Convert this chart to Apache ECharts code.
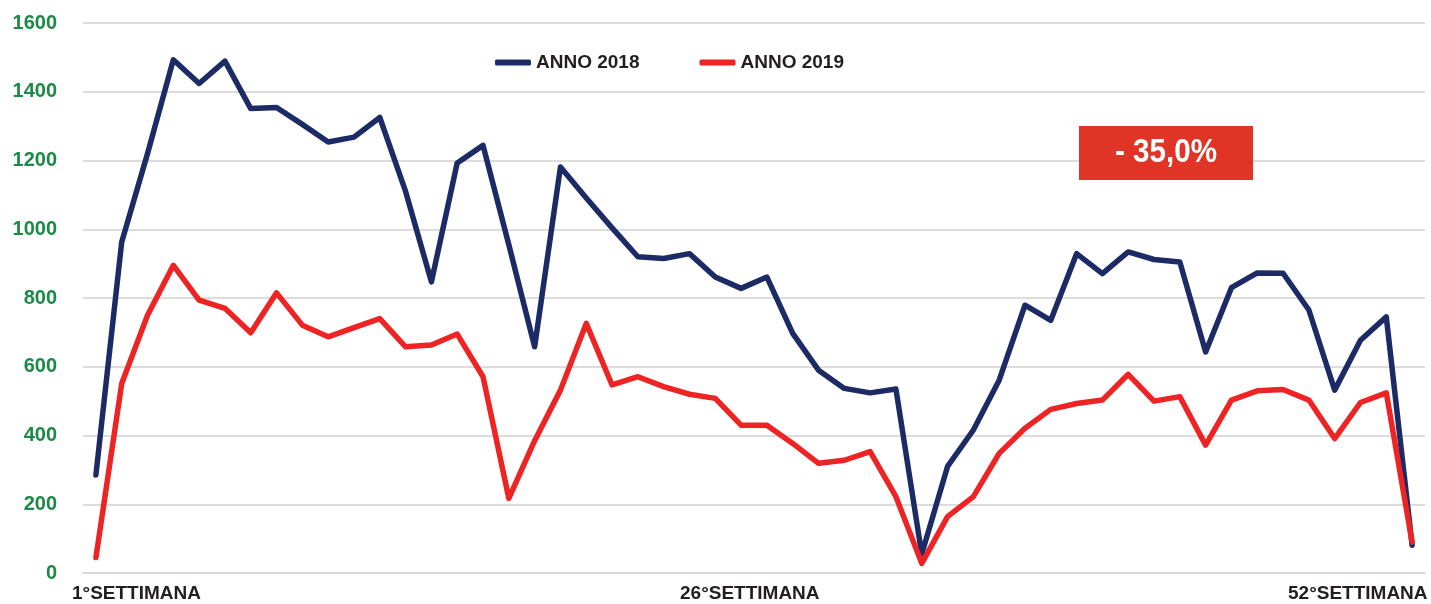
<!DOCTYPE html>
<html>
<head>
<meta charset="utf-8">
<script src="https://cdn.jsdelivr.net/npm/echarts@6/dist/echarts.min.js"></script>
<style>
html,body{margin:0;padding:0;background:#fff;}
#chart{width:1431px;height:604px;}
</style>
</head>
<body>
<div id="chart"></div>
<script>
const weeks = Array.from({length: 52}, (_, i) => (i + 1) + '°');
const xTickLabels = ['1°SETTIMANA', '26°SETTIMANA', '52°SETTIMANA'];
const seriesNames = ['ANNO 2018', 'ANNO 2019'];
const anno2018 = [285, 963, 1220, 1493, 1424, 1489, 1351, 1354, 1305, 1254,
  1268, 1325, 1110, 847, 1193, 1244, 955, 658, 1181, 1091,
  1004, 920, 915, 929, 861, 828, 861, 697, 590, 537,
  524, 535, 55, 310, 416, 561, 779, 735, 929, 871,
  934, 912, 905, 643, 830, 873, 872, 765, 532, 677,
  745, 81];
const anno2019 = [45, 551, 750, 895, 794, 770, 699, 815, 721, 687,
  714, 740, 658, 663, 695, 571, 217, 385, 532, 726,
  547, 571, 542, 520, 508, 430, 430, 377, 319, 328,
  353, 222, 28, 164, 222, 348, 421, 476, 493, 503,
  578, 500, 513, 372, 503, 530, 534, 503, 391, 496,
  524, 90];
const yTicks = {min: 0, max: 1600, interval: 200};
const badgeText = '- 35,0%';

const chart = echarts.init(document.getElementById('chart'));
const FONT = "'Liberation Sans', Arial, sans-serif";
chart.setOption({
  animation: false,
  backgroundColor: '#ffffff',
  grid: {left: 83, right: 6, top: 23, bottom: 31, containLabel: false},
  legend: {
    data: seriesNames,
    left: 490, top: 48,
    itemWidth: 36, itemHeight: 6, itemGap: 60,
    icon: 'roundRect',
    textStyle: {fontFamily: FONT, fontWeight: 'bold', fontSize: 19, color: '#231f20'}
  },
  xAxis: {
    type: 'category',
    data: weeks,
    boundaryGap: true,
    axisLine: {show: true, lineStyle: {color: '#d9d9d9', width: 2}},
    axisTick: {show: false},
    axisLabel: {show: false},
    splitLine: {show: false}
  },
  yAxis: {
    type: 'value',
    min: yTicks.min, max: yTicks.max, interval: yTicks.interval,
    axisLine: {show: false},
    axisTick: {show: false},
    axisLabel: {fontFamily: FONT, fontWeight: 'bold', fontSize: 20, color: '#1b8a47', margin: 26,
      formatter: v => String(v)},
    splitLine: {lineStyle: {color: '#dcdcdc', width: 2}}
  },
  series: [
    {name: seriesNames[0], type: 'line', data: anno2018, symbol: 'none',
     itemStyle: {color: '#1c2a66'},
     lineStyle: {color: '#1c2a66', width: 5.5, join: 'round', cap: 'round'}},
    {name: seriesNames[1], type: 'line', data: anno2019, symbol: 'none',
     itemStyle: {color: '#ee2424'},
     lineStyle: {color: '#ee2424', width: 5.5, join: 'round', cap: 'round'}}
  ],
  graphic: [
    {type: 'rect', shape: {x: 1079, y: 126, width: 174, height: 54}, style: {fill: '#e03526'}, z: 10},
    {type: 'text', x: 1166, y: 153, scaleX: 0.87, z: 11,
     style: {text: badgeText, fill: '#ffffff', font: "bold 34px 'Liberation Sans', Arial, sans-serif",
       textAlign: 'center', textVerticalAlign: 'middle'}},
    {type: 'text', x: 72, y: 594, z: 11,
     style: {text: xTickLabels[0], fill: '#231f20', font: "bold 19px 'Liberation Sans', Arial, sans-serif", textVerticalAlign: 'middle'}},
    {type: 'text', x: 680, y: 594, z: 11,
     style: {text: xTickLabels[1], fill: '#231f20', font: "bold 19px 'Liberation Sans', Arial, sans-serif", textVerticalAlign: 'middle'}},
    {type: 'text', x: 1288, y: 594, z: 11,
     style: {text: xTickLabels[2], fill: '#231f20', font: "bold 19px 'Liberation Sans', Arial, sans-serif", textVerticalAlign: 'middle'}}
  ]
});
</script>
</body>
</html>
